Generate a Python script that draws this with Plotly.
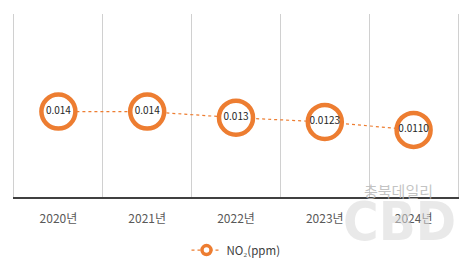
import plotly.graph_objects as go

years = ["2020년", "2021년", "2022년", "2023년", "2024년"]
no2_values = [0.014, 0.014, 0.013, 0.0123, 0.0110]
no2_labels = ["0.014", "0.014", "0.013", "0.0123", "0.0110"]
series_name = "NO₂(ppm)"
watermark_top = "충북데일리"
watermark_logo = "CBD"

ORANGE = "#ED7D31"
FONT = "Noto Sans CJK KR"

fig = go.Figure()
fig.add_trace(go.Scatter(
    x=years, y=no2_values, mode="lines+markers+text",
    text=no2_labels, textposition="middle center",
    textfont=dict(family=FONT, size=10, color="#262626"),
    line=dict(color=ORANGE, width=1.2, dash="dot"),
    marker=dict(size=34, color="white", line=dict(color=ORANGE, width=4.5)),
    showlegend=False, cliponaxis=False,
))
# legend-only entry with a small marker
fig.add_trace(go.Scatter(
    x=[None], y=[None], mode="lines+markers", name=series_name,
    line=dict(color=ORANGE, width=1.2, dash="dot"),
    marker=dict(size=9, color="white", line=dict(color=ORANGE, width=3.5)),
))

fig.update_layout(
    width=472, height=265,
    margin=dict(l=14, r=14, t=14, b=68, autoexpand=False),
    paper_bgcolor="white", plot_bgcolor="white",
    font=dict(family=FONT, color="#595959"),
    xaxis=dict(type="category", tickson="boundaries", showgrid=True,
               gridcolor="#D0D0D0", gridwidth=1,
               showline=True, linecolor="#404040", linewidth=1.5,
               ticks="", ticklabelstandoff=10, automargin=False,
               tickfont=dict(size=12, color="#595959"),
               range=[-0.5, 4.5]),
    yaxis=dict(range=[0, 0.03], showgrid=False, showticklabels=False,
               zeroline=False, showline=True, mirror=True, automargin=False,
               linecolor="#D0D0D0", linewidth=1, ticks=""),
    legend=dict(orientation="h", x=0.5, xanchor="center", y=-0.29,
                yanchor="middle", font=dict(size=11.5, color="#404040"),
                itemwidth=30),
    annotations=[
        dict(text=watermark_top, x=398, y=190, xref="paper", yref="paper",
             xanchor="center", yanchor="middle",
             showarrow=False, font=dict(family=FONT, size=15, color="rgba(185,185,185,0.85)")),
        dict(text="<b>" + watermark_logo + "</b>", x=399, y=221, xref="paper", yref="paper",
             xanchor="center", yanchor="middle",
             showarrow=False, font=dict(family="DejaVu Sans Condensed", size=54, color="rgba(215,215,215,0.55)")),
    ],
)
# convert watermark pixel positions into paper coordinates
for ann in fig.layout.annotations:
    px, py = ann.x, ann.y
    ann.x = (px - 14) / (472 - 28)
    ann.y = (265 - 68 - py) / (265 - 82)

fig.write_html("out.html")
